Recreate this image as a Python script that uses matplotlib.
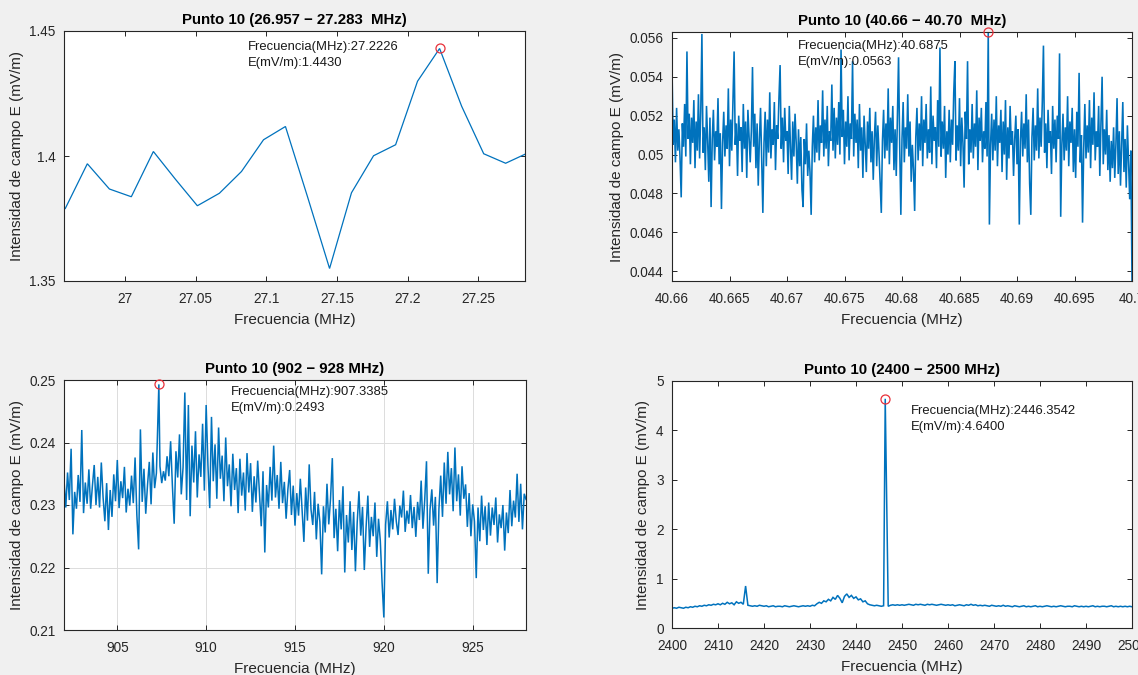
import numpy as np
import matplotlib
matplotlib.use("Agg")
import matplotlib.pyplot as plt
from matplotlib.ticker import FormatStrFormatter

plt.rcParams["font.family"] = ["Liberation Sans", "DejaVu Sans"]

# ---------------------------------------------------------------------------
# Band 26.957 - 27.283 MHz (mV/m)
tl_freq = [26.9579, 26.9735, 26.9891, 27.0046, 27.0202, 27.0358, 27.0513,
           27.0669, 27.0825, 27.0981, 27.1136, 27.1292, 27.1448, 27.1603,
           27.1759, 27.1915, 27.2070, 27.2226, 27.2382, 27.2538, 27.2693,
           27.2849]
tl_E = [1.3790, 1.3969, 1.3868, 1.3837, 1.4018, 1.3907, 1.3801, 1.3851,
        1.3938, 1.4065, 1.4118, 1.3837, 1.3550, 1.3853, 1.4001, 1.4045,
        1.4299, 1.4430, 1.4199, 1.4009, 1.3971, 1.4012]
tl_peak = (27.2226, 1.4430)

# Band 40.66 - 40.70 MHz (values in uV/m)
tr_E_uV = [
    54.5, 50.5, 51.8, 49.6, 52.4, 50.2, 51.3, 49.8, 47.8, 51.6, 50.4, 52.6, 49.9, 55.3, 50.8, 52.1, 49.5, 51.9, 50.6, 52.8,
    49.3, 51.7, 50.2, 53.1, 49.8, 52.2, 56.2, 50.1, 51.4, 49.2, 52.5, 50.7, 48.6, 51.9, 47.3, 50.8, 52.3, 49.7, 51.2, 50.4,
    52.9, 49.5, 51.1, 47.2, 50.6, 52.2, 49.9, 51.5, 50.3, 53.4, 49.4, 51.8, 50.2, 52.7, 55.3, 50.5, 51.6, 48.9, 52.0, 50.7,
    51.4, 49.1, 52.6, 50.3, 51.7, 48.8, 52.3, 50.9, 49.6, 51.2, 54.5, 50.4, 52.1, 49.3, 51.6, 48.4, 50.8, 52.4, 49.7, 47.0,
    50.6, 52.2, 49.4, 51.8, 50.1, 53.2, 49.8, 51.3, 50.5, 52.7, 49.2, 51.5, 50.8, 52.9, 54.6, 50.3, 51.9, 49.6, 52.4, 50.7,
    51.2, 49.0, 52.5, 50.4, 48.7, 51.7, 49.9, 52.1, 50.6, 48.5, 51.3, 49.4, 50.9, 48.2, 47.3, 50.8, 49.5, 51.6, 48.9, 50.2,
    49.1, 46.9, 50.4, 52.0, 49.6, 51.4, 50.1, 52.8, 49.7, 51.5, 50.6, 53.3, 49.9, 51.8, 50.3, 52.5, 49.4, 51.2, 50.7, 53.6,
    50.2, 52.4, 49.8, 51.9, 50.5, 52.7, 50.0, 55.4, 50.9, 52.3, 49.5, 51.7, 50.4, 53.0, 49.7, 51.6, 50.8, 54.8, 49.9, 52.1,
    50.6, 51.8, 49.3, 52.6, 50.2, 51.4, 48.8, 52.0, 50.5, 49.1, 51.7, 50.3, 52.4, 49.6, 51.2, 48.7, 50.9, 52.2, 49.4, 51.5,
    50.1, 48.5, 47.0, 50.7, 52.3, 49.8, 51.6, 50.2, 53.4, 49.5, 51.9, 50.6, 52.5, 49.2, 51.3, 48.9, 52.0, 55.0, 50.4, 46.9,
    50.8, 52.7, 49.6, 51.4, 50.3, 53.1, 49.9, 51.7, 48.6, 50.5, 49.2, 47.1, 50.9, 52.4, 49.7, 51.6, 50.2, 53.0, 49.4, 51.8,
    50.6, 52.6, 49.8, 51.3, 50.1, 53.5, 49.5, 52.0, 50.7, 51.4, 49.3, 52.8, 50.4, 55.5, 49.9, 51.7, 50.3, 52.5, 48.8, 51.2,
    50.0, 52.3, 49.6, 51.8, 50.5, 53.2, 54.8, 49.7, 51.5, 50.2, 52.9, 49.4, 51.9, 50.6, 48.3, 52.2, 50.8, 54.8, 49.5, 51.3,
    50.1, 52.6, 49.8, 51.6, 50.4, 53.3, 49.2, 51.9, 50.7, 52.4, 49.6, 51.2, 50.3, 52.7, 49.9, 56.3, 46.4, 50.5, 52.1, 49.7,
    51.8, 50.2, 53.0, 49.4, 51.5, 50.6, 52.3, 49.1, 51.7, 50.0, 52.8, 48.7, 51.4, 49.8, 52.5, 50.5, 51.2, 48.9, 50.8, 52.0,
    49.5, 51.3, 46.4, 50.7, 52.2, 49.9, 51.6, 50.3, 53.1, 49.6, 51.8, 48.5, 46.9, 50.9, 52.4, 49.7, 51.5, 50.2, 53.4, 49.8,
    51.9, 50.4, 52.7, 55.6, 50.1, 51.6, 49.3, 52.3, 50.6, 51.2, 49.0, 52.5, 50.3, 51.8, 49.6, 52.0, 50.8, 55.2, 46.8, 50.5,
    52.1, 49.7, 51.4, 50.2, 53.0, 49.4, 51.7, 50.6, 52.4, 49.1, 51.3, 48.8, 52.2, 50.4, 54.2, 49.6, 51.0, 46.5, 50.3, 52.6,
    49.8, 51.5, 50.1, 52.8, 49.3, 51.9, 50.5, 53.2, 49.7, 51.2, 50.4, 52.5, 48.9, 51.6, 54.0, 49.5, 51.3, 50.0, 52.3, 49.2,
    51.0, 48.6, 50.7, 49.3, 51.4, 48.8, 50.5, 52.9, 49.0, 51.2, 48.4, 50.6, 52.7, 49.1, 50.8, 48.3, 51.5, 49.6, 47.7, 50.2,
    43.5,
]
tr_peak = (40.6875, 0.0563)

# Band 902 - 928 MHz (values in uV/m)
bl_E_uV = [
    234.0, 229.6, 235.2, 230.8, 239.0, 225.3, 232.1, 229.4, 234.8, 230.5, 242.0, 228.7, 233.6, 230.2, 235.7, 229.4, 233.1, 236.4, 230.0, 234.5,
    229.6, 236.8, 231.2, 227.4, 233.5, 226.0, 232.4, 228.1, 234.9, 230.6, 237.2, 229.5, 233.8, 231.1, 236.1, 228.8, 232.6, 229.9, 234.7, 230.3,
    237.6, 228.4, 222.9, 242.1, 230.5, 235.8, 228.6, 233.2, 236.9, 230.1, 238.4, 232.7, 235.1, 249.3, 236.2, 233.5, 235.4, 233.9, 237.8, 234.6,
    240.2, 233.1, 227.0, 238.6, 234.4, 241.3, 231.7, 236.0, 248.0, 230.8, 246.0, 228.2, 239.5, 233.6, 241.8, 231.2, 238.1, 234.5, 243.0, 232.3,
    246.0, 236.4, 229.5, 244.1, 233.8, 239.7, 231.0, 242.4, 234.2, 237.9, 230.6, 240.8, 233.0, 236.5, 229.8, 238.2, 232.4, 235.9, 228.7, 237.4,
    231.5, 235.2, 229.1, 238.3, 232.0, 236.7, 228.9, 234.6, 230.4, 237.1, 231.8, 226.6, 235.4, 222.4, 233.2, 229.6, 236.1, 230.7, 239.5, 231.2,
    234.8, 229.4, 236.9, 230.3, 233.7, 227.8, 232.5, 235.6, 228.4, 233.1, 226.7, 231.9, 228.3, 234.2, 229.0, 224.1, 232.8, 227.5, 236.5, 229.3,
    226.8, 232.1, 224.5, 230.2, 227.3, 218.9, 229.8, 225.6, 233.4, 226.9, 231.0, 237.5, 224.7, 229.4, 222.6, 230.8, 226.1, 233.0, 219.2, 228.4,
    224.0, 230.6, 222.8, 228.9, 219.4, 227.2, 232.2, 225.1, 229.7, 219.6, 226.4, 231.5, 223.3, 228.1, 225.0, 230.4, 221.7, 227.8, 224.3, 217.6,
    212.0, 226.9, 230.6, 224.8, 229.2, 226.1, 231.0, 227.4, 225.2, 229.9, 228.0, 232.3, 225.7, 229.1, 227.0, 231.6, 226.3, 229.7, 224.9, 230.5,
    227.6, 233.9, 226.2, 230.8, 237.0, 219.0, 229.3, 232.5, 226.7, 231.3, 217.5, 229.4, 234.7, 228.1, 236.8, 230.2, 238.5, 231.7, 235.9, 229.0,
    239.2, 230.6, 234.9, 228.3, 236.2, 231.0, 233.3, 226.5, 231.9, 225.0, 230.1, 227.4, 218.3, 229.6, 224.2, 231.5, 226.0, 229.8, 223.6, 230.4,
    225.1, 229.6, 226.8, 231.2, 224.0, 228.5, 226.3, 230.0, 222.7, 228.8, 225.5, 232.4, 226.6, 230.7, 228.0, 235.0, 227.3, 233.4, 226.1, 231.8,
    230.9,
]
bl_peak = (907.3385, 0.2493)

# Band 2400 - 2500 MHz (mV/m)
br_E = [
    0.40, 0.41, 0.40, 0.42, 0.41, 0.40, 0.42, 0.41, 0.43, 0.42, 0.44, 0.43, 0.45, 0.44, 0.46, 0.45, 0.47, 0.46, 0.48, 0.47,
    0.49, 0.47, 0.50, 0.48, 0.52, 0.49, 0.51, 0.47, 0.53, 0.50, 0.52, 0.48, 0.85, 0.46, 0.45, 0.44, 0.45, 0.44, 0.46, 0.45,
    0.44, 0.45, 0.43, 0.44, 0.45, 0.43, 0.44, 0.44, 0.43, 0.45, 0.44, 0.43, 0.44, 0.45, 0.44, 0.43, 0.44, 0.45, 0.44, 0.45,
    0.44, 0.46, 0.45, 0.49, 0.52, 0.50, 0.55, 0.53, 0.58, 0.55, 0.62, 0.58, 0.66, 0.60, 0.51, 0.64, 0.69, 0.62, 0.66, 0.60,
    0.63, 0.57, 0.59, 0.53, 0.55, 0.49, 0.47, 0.46, 0.45, 0.46, 0.45, 0.44, 0.45, 4.64, 0.44, 0.46, 0.47, 0.46, 0.47, 0.46,
    0.47, 0.46, 0.47, 0.48, 0.47, 0.46, 0.48, 0.47, 0.48, 0.47, 0.46, 0.48, 0.47, 0.48, 0.47, 0.46, 0.47, 0.48, 0.47, 0.46,
    0.47, 0.46, 0.47, 0.45, 0.46, 0.47, 0.46, 0.45, 0.47, 0.46, 0.48, 0.46, 0.47, 0.45, 0.46, 0.45, 0.46, 0.45, 0.44, 0.46,
    0.45, 0.44, 0.45, 0.44, 0.46, 0.44, 0.45, 0.44, 0.43, 0.45, 0.44, 0.43, 0.44, 0.45, 0.43, 0.44, 0.43, 0.44, 0.45, 0.43,
    0.44, 0.43, 0.44, 0.45, 0.44, 0.43, 0.44, 0.43, 0.44, 0.45, 0.44, 0.43, 0.44, 0.44, 0.43, 0.45, 0.44, 0.43, 0.44, 0.43,
    0.44, 0.43, 0.44, 0.45, 0.43, 0.44, 0.43, 0.44, 0.44, 0.43, 0.44, 0.45, 0.43, 0.44, 0.43, 0.44, 0.43, 0.44, 0.43, 0.44,
    0.43,
]
br_peak = (2446.3542, 4.6400)

# Axis ticks
tl_xticks = [27.0, 27.05, 27.1, 27.15, 27.2, 27.25]
tl_yticks = [1.35, 1.4, 1.45]
tr_xticks = [40.66, 40.665, 40.67, 40.675, 40.68, 40.685, 40.69, 40.695, 40.70]
tr_yticks = [0.044, 0.046, 0.048, 0.050, 0.052, 0.054, 0.056]
bl_xticks = [905, 910, 915, 920, 925]
bl_yticks = [0.21, 0.22, 0.23, 0.24, 0.25]
br_xticks = [2400, 2410, 2420, 2430, 2440, 2450, 2460, 2470, 2480, 2490, 2500]
br_yticks = [0, 1, 2, 3, 4, 5]

titles = ["Punto 10 (26.957 \u2212 27.283  MHz)",
          "Punto 10 (40.66 \u2212 40.70  MHz)",
          "Punto 10 (902 \u2212 928 MHz)",
          "Punto 10 (2400 \u2212 2500 MHz)"]
xlabel = "Frecuencia (MHz)"
ylabel = "Intensidad de campo E (mV/m)"

# ---------------------------------------------------------------------------
LINE = "#0072BD"
INK = "#262626"
W, H = 1138, 675

fig = plt.figure(figsize=(W / 100, H / 100), dpi=100, facecolor="#f0f0f0")


def box(left, top, right, bottom):
    return [left / W, 1 - bottom / H, (right - left) / W, (bottom - top) / H]


def snap_peak(freq, values, peak_freq):
    freq = np.array(freq, dtype=float)
    freq[int(np.argmax(values))] = peak_freq
    return freq


def panel(rect, freq, values, peak, xlim, ylim, xticks, yticks, title,
          text_pos, grid=False, lw=0.9):
    ax = fig.add_axes(box(*rect))
    ax.set_facecolor("white")
    ax.plot(freq, values, color=LINE, lw=lw, solid_joinstyle="miter")
    ax.plot([peak[0]], [peak[1]], "o", mfc="none", mec="#e8303a",
            ms=6.5, mew=0.9, clip_on=False, zorder=5)
    ax.text(text_pos[0], text_pos[1],
            f"Frecuencia(MHz):{peak[0]:.4f}\nE(mV/m):{peak[1]:.4f}",
            transform=ax.transAxes, ha="left", va="center", fontsize=9.4,
            color="#1a1a1a", linespacing=1.45)
    ax.set_xlim(*xlim)
    ax.set_ylim(*ylim)
    ax.set_xticks(xticks)
    ax.set_yticks(yticks)
    ax.xaxis.set_major_formatter(FormatStrFormatter("%g"))
    ax.yaxis.set_major_formatter(FormatStrFormatter("%g"))
    ax.tick_params(direction="in", top=True, right=True, length=3.5,
                   width=0.7, colors=INK, labelsize=9.8)
    ax.tick_params(axis="x", pad=8)
    ax.tick_params(axis="y", pad=6)
    for s in ax.spines.values():
        s.set_color(INK)
        s.set_linewidth(0.8)
    if grid:
        ax.grid(True, color="#dcdcdc", lw=0.7)
        ax.set_axisbelow(True)
    ax.set_title(title, fontsize=10.8, fontweight="bold", color="black",
                 pad=5)
    ax.set_xlabel(xlabel, fontsize=11, color=INK, labelpad=5)
    ax.set_ylabel(ylabel, fontsize=11, color=INK, labelpad=4)
    return ax


# Top left
panel((64, 31, 525, 281), tl_freq, tl_E, tl_peak,
      (26.957, 27.283), (1.35, 1.45), tl_xticks, tl_yticks, titles[0],
      (0.399, 0.904), lw=0.9)

# Top right
tr_E = np.array(tr_E_uV) / 1000.0
tr_freq = snap_peak(np.linspace(40.66, 40.70, len(tr_E)), tr_E, tr_peak[0])
panel((672, 32, 1132, 281), tr_freq, tr_E, tr_peak,
      (40.66, 40.70), (tr_E.min(), tr_E.max()), tr_xticks, tr_yticks,
      titles[1], (0.274, 0.91), lw=1.15)

# Bottom left
bl_E = np.array(bl_E_uV) / 1000.0
bl_freq = snap_peak(np.linspace(902, 928, len(bl_E)), bl_E, bl_peak[0])
panel((64, 380, 526, 630), bl_freq, bl_E, bl_peak,
      (902, 928), (0.21, 0.25), bl_xticks, bl_yticks, titles[2],
      (0.361, 0.92), grid=True, lw=1.1)

# Bottom right
br_vals = np.array(br_E)
br_freq = snap_peak(np.linspace(2400, 2500, len(br_vals)), br_vals, br_peak[0])
panel((672, 381, 1132, 628), br_freq, br_vals, br_peak,
      (2400, 2500), (0, 5), br_xticks, br_yticks, titles[3],
      (0.52, 0.846), lw=1.1)

fig.savefig("out.png", dpi=100, facecolor=fig.get_facecolor())
